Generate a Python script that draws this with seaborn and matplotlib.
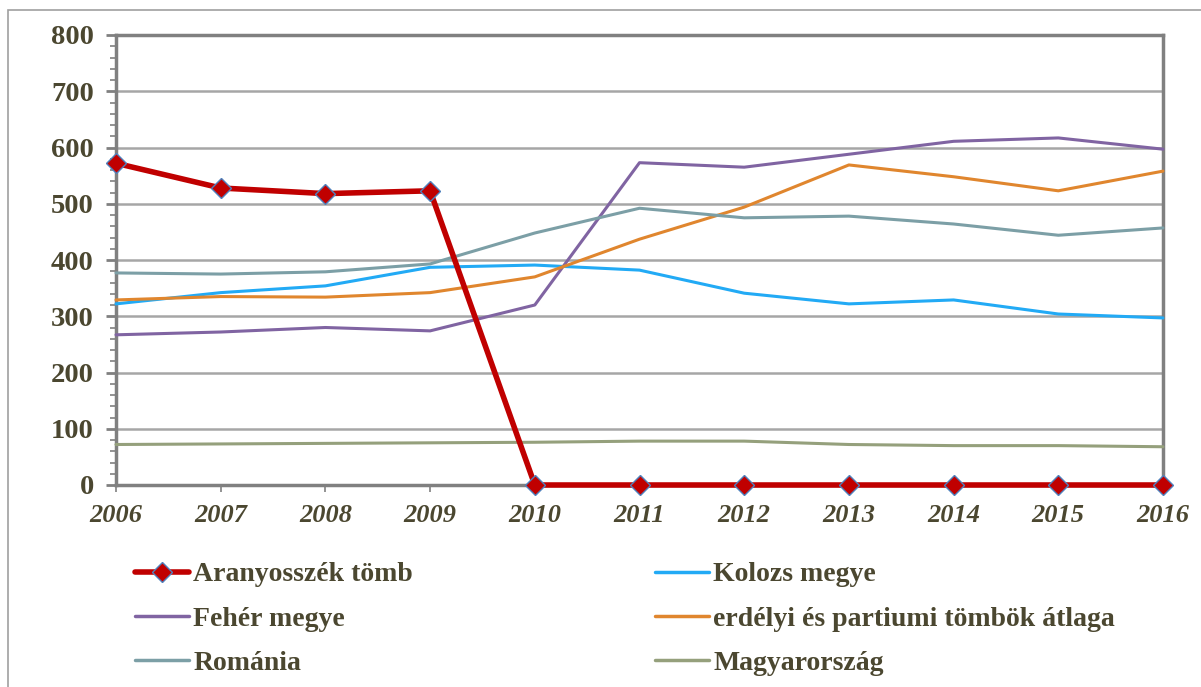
import numpy as np
import pandas as pd
import seaborn as sns
import matplotlib
matplotlib.use('Agg')
import matplotlib.pyplot as plt
from matplotlib.ticker import MultipleLocator
from matplotlib.patches import Rectangle

sns.set_style('white')
plt.rcParams['font.family'] = ['Liberation Serif', 'DejaVu Serif']

# Data
years = [2006, 2007, 2008, 2009, 2010, 2011, 2012, 2013, 2014, 2015, 2016]
aranyosszek = [572, 528, 518, 523, 0, 0, 0, 0, 0, 0, 0]
kolozs = [322, 342, 354, 387, 391, 382, 341, 322, 329, 304, 297]
feher = [267, 272, 280, 274, 320, 573, 565, 588, 611, 617, 597]
erdelyi = [329, 335, 334, 342, 370, 437, 494, 569, 548, 523, 558]
romania = [377, 375, 379, 393, 448, 492, 475, 478, 464, 444, 457]
magyar = [72, 73, 74, 75, 76, 78, 78, 72, 70, 70, 68]

names = ['Aranyosszék tömb', 'Kolozs megye', 'Fehér megye',
         'erdélyi és partiumi tömbök átlaga', 'Románia', 'Magyarország']
colors = ['#C00000', '#22AAF5', '#8064A2', '#E0862E', '#7C9FA6', '#95A07C']
text_col = '#4B4730'

df = pd.DataFrame({'year': years, names[0]: aranyosszek, names[1]: kolozs,
                   names[2]: feher, names[3]: erdelyi, names[4]: romania,
                   names[5]: magyar})
long = df.melt(id_vars='year', var_name='series', value_name='value')

fig = plt.figure(figsize=(12.01, 6.87), dpi=100)
ax = fig.add_axes([116/1201, 1-485/687, (1163-116)/1201, 450/687])

# thin lines first, red one on top
others = long[long['series'] != names[0]]
sns.lineplot(data=others, x='year', y='value', hue='series',
             hue_order=names[1:], palette=colors[1:], linewidth=2.2,
             ax=ax, legend=False, zorder=3)
sns.lineplot(data=long[long['series'] == names[0]], x='year', y='value',
             color=colors[0], linewidth=4.0, marker='D', markersize=10,
             markeredgecolor='#4F81BD', markeredgewidth=1.0,
             ax=ax, legend=False, zorder=5)
for ln in ax.lines:
    ln.set_clip_on(False)

ax.set_xlim(2006, 2016)
ax.set_ylim(0, 800)
ax.set_xticks(years)
ax.yaxis.set_major_locator(MultipleLocator(100))
ax.yaxis.set_minor_locator(MultipleLocator(20))
ax.grid(axis='y', color='#A6A6A6', linewidth=1.8)
ax.grid(axis='x', visible=False)
ax.set_axisbelow(True)
for s in ax.spines.values():
    s.set_color('#808080')
    s.set_linewidth(2.5)
ax.tick_params(axis='y', which='major', left=True, length=7, width=2,
               color='#808080', pad=9, labelsize=20.5, labelcolor=text_col)
ax.tick_params(axis='y', which='minor', left=True, length=4, width=1.2,
               color='#808080')
ax.tick_params(axis='x', bottom=True, length=5, width=1.2, color='#808080',
               pad=9, labelsize=19, labelcolor=text_col)
for lab in ax.get_yticklabels():
    lab.set_fontweight('bold')
for lab in ax.get_xticklabels():
    lab.set_fontweight('bold')
    lab.set_fontstyle('italic')
ax.set_xlabel('')
ax.set_ylabel('')

# legend, two columns
handles = []
for n, c in zip(names, colors):
    if n == names[0]:
        h, = ax.plot([], [], color=c, linewidth=4.0, marker='D', markersize=10,
                     markeredgecolor='#4F81BD', markeredgewidth=1.0)
    else:
        h, = ax.plot([], [], color=c, linewidth=2.5)
    handles.append(h)
order = [0, 2, 4, 1, 3, 5]
leg = fig.legend([handles[i] for i in order], [names[i] for i in order],
                 ncol=2, loc='upper left', bbox_to_anchor=(110/1201, 1-537/687),
                 frameon=False, handlelength=1.95, handletextpad=0.15,
                 columnspacing=8.7, labelspacing=0.68,
                 prop={'family': 'Liberation Serif', 'weight': 'bold', 'size': 20})
for t in leg.get_texts():
    t.set_color(text_col)

fig.patches.append(Rectangle((8/1201, -0.1), 1.2, 1.1-10/687, transform=fig.transFigure,
                             fill=False, edgecolor='#A0A0A0', linewidth=1.2))

fig.savefig('out.png', dpi=100)
